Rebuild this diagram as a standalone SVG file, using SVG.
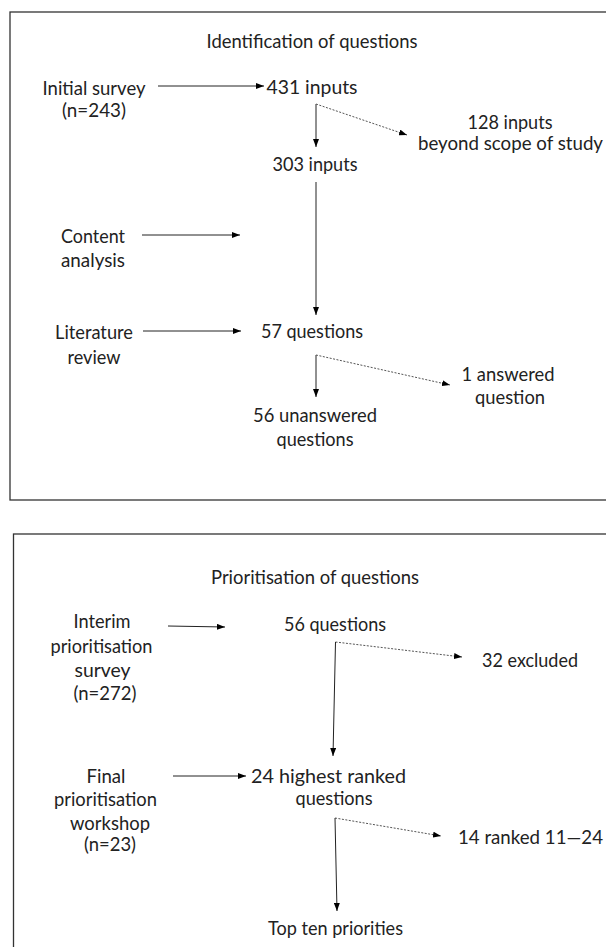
<svg xmlns="http://www.w3.org/2000/svg" width="606" height="947" viewBox="0 0 606 947">
<defs>
<marker id="ah" viewBox="0 0 8 6" markerWidth="8" markerHeight="6" refX="8" refY="3" orient="auto" markerUnits="userSpaceOnUse">
<path d="M0,0 L8,3 L0,6 z" fill="#000"/>
</marker>
</defs>
<style>
text{font-family:Lato,"Liberation Sans",sans-serif;font-size:19px;font-weight:400;fill:#222;text-anchor:middle}
.st{text-anchor:start}
.frame{fill:#fff;stroke:#333;stroke-width:1.3}
.solid{stroke:#222;stroke-width:1;fill:none}
.dash{stroke:#555;stroke-width:1;fill:none;stroke-dasharray:2 1.5}
</style>
<rect width="606" height="947" fill="#fff"/>
<g id="stage1">
<rect class="frame" x="10" y="12" width="620" height="488"/>
<text x="312" y="48" textLength="211" lengthAdjust="spacingAndGlyphs">Identification of questions</text>
</g>
<g id="stage2">
<rect class="frame" x="13.5" y="534" width="620" height="430"/>
<text x="315" y="584" textLength="208" lengthAdjust="spacingAndGlyphs">Prioritisation of questions</text>
</g>
<g id="n-initial"><text x="94" y="95" textLength="103" lengthAdjust="spacingAndGlyphs">Initial survey</text><text x="94" y="117" textLength="64" lengthAdjust="spacingAndGlyphs">(n=243)</text></g>
<g id="n-431"><text x="312" y="94" textLength="91" lengthAdjust="spacingAndGlyphs">431 inputs</text></g>
<g id="n-128"><text x="510" y="129" textLength="85" lengthAdjust="spacingAndGlyphs">128 inputs</text><text x="510.5" y="150" textLength="185" lengthAdjust="spacingAndGlyphs">beyond scope of study</text></g>
<g id="n-303"><text x="315" y="171" textLength="85" lengthAdjust="spacingAndGlyphs">303 inputs</text></g>
<g id="n-content"><text x="93" y="243" textLength="64" lengthAdjust="spacingAndGlyphs">Content</text><text x="93" y="267" textLength="64" lengthAdjust="spacingAndGlyphs">analysis</text></g>
<g id="n-lit"><text x="94" y="339" textLength="78" lengthAdjust="spacingAndGlyphs">Literature</text><text x="94" y="364" textLength="53" lengthAdjust="spacingAndGlyphs">review</text></g>
<g id="n-57"><text x="312" y="338" textLength="102" lengthAdjust="spacingAndGlyphs">57 questions</text></g>
<g id="n-1ans"><text x="508" y="381" textLength="93" lengthAdjust="spacingAndGlyphs">1 answered</text><text x="510" y="404" textLength="70" lengthAdjust="spacingAndGlyphs">question</text></g>
<g id="n-56un"><text x="315" y="422" textLength="124" lengthAdjust="spacingAndGlyphs">56 unanswered</text><text x="315" y="446" textLength="77" lengthAdjust="spacingAndGlyphs">questions</text></g>
<g id="n-interim"><text x="102" y="628" textLength="57" lengthAdjust="spacingAndGlyphs">Interim</text><text x="101.5" y="653" textLength="102" lengthAdjust="spacingAndGlyphs">prioritisation</text><text x="102.5" y="677" textLength="56" lengthAdjust="spacingAndGlyphs">survey</text><text x="105" y="700" textLength="63" lengthAdjust="spacingAndGlyphs">(n=272)</text></g>
<g id="n-56q"><text x="335" y="631" textLength="102" lengthAdjust="spacingAndGlyphs">56 questions</text></g>
<g id="n-32"><text class="st" x="482" y="667" textLength="96" lengthAdjust="spacingAndGlyphs">32 excluded</text></g>
<g id="n-final"><text x="106" y="783" textLength="39" lengthAdjust="spacingAndGlyphs">Final</text><text x="105.5" y="806" textLength="103" lengthAdjust="spacingAndGlyphs">prioritisation</text><text x="110" y="830" textLength="80" lengthAdjust="spacingAndGlyphs">workshop</text><text x="110" y="851" textLength="52" lengthAdjust="spacingAndGlyphs">(n=23)</text></g>
<g id="n-24"><text x="328.5" y="783" textLength="155" lengthAdjust="spacingAndGlyphs">24 highest ranked</text><text x="334" y="805" textLength="77" lengthAdjust="spacingAndGlyphs">questions</text></g>
<g id="n-14"><text class="st" x="458" y="844" textLength="145" lengthAdjust="spacingAndGlyphs">14 ranked 11—24</text></g>
<g id="n-top"><text x="335.5" y="935" textLength="135" lengthAdjust="spacingAndGlyphs">Top ten priorities</text></g>
<g id="connectors">
<line class="solid" x1="158" y1="86" x2="264" y2="86" marker-end="url(#ah)"/>
<line class="solid" x1="316" y1="104" x2="316" y2="147" marker-end="url(#ah)"/>
<line class="dash" x1="316" y1="104" x2="407" y2="135" marker-end="url(#ah)"/>
<line class="solid" x1="316" y1="182" x2="316" y2="315" marker-end="url(#ah)"/>
<line class="solid" x1="142" y1="235" x2="240" y2="235" marker-end="url(#ah)"/>
<line class="solid" x1="143" y1="331" x2="241" y2="331" marker-end="url(#ah)"/>
<line class="solid" x1="316" y1="355" x2="316" y2="397" marker-end="url(#ah)"/>
<line class="dash" x1="316" y1="355" x2="450" y2="385" marker-end="url(#ah)"/>
<line class="solid" x1="168" y1="626" x2="225" y2="627" marker-end="url(#ah)"/>
<line class="dash" x1="335.5" y1="642" x2="462" y2="657" marker-end="url(#ah)"/>
<line class="solid" x1="335.5" y1="642" x2="333" y2="756" marker-end="url(#ah)"/>
<line class="solid" x1="173" y1="776" x2="246" y2="776" marker-end="url(#ah)"/>
<line class="dash" x1="335" y1="818" x2="441" y2="836" marker-end="url(#ah)"/>
<line class="solid" x1="335" y1="818" x2="337" y2="911" marker-end="url(#ah)"/>
</g>
</svg>
